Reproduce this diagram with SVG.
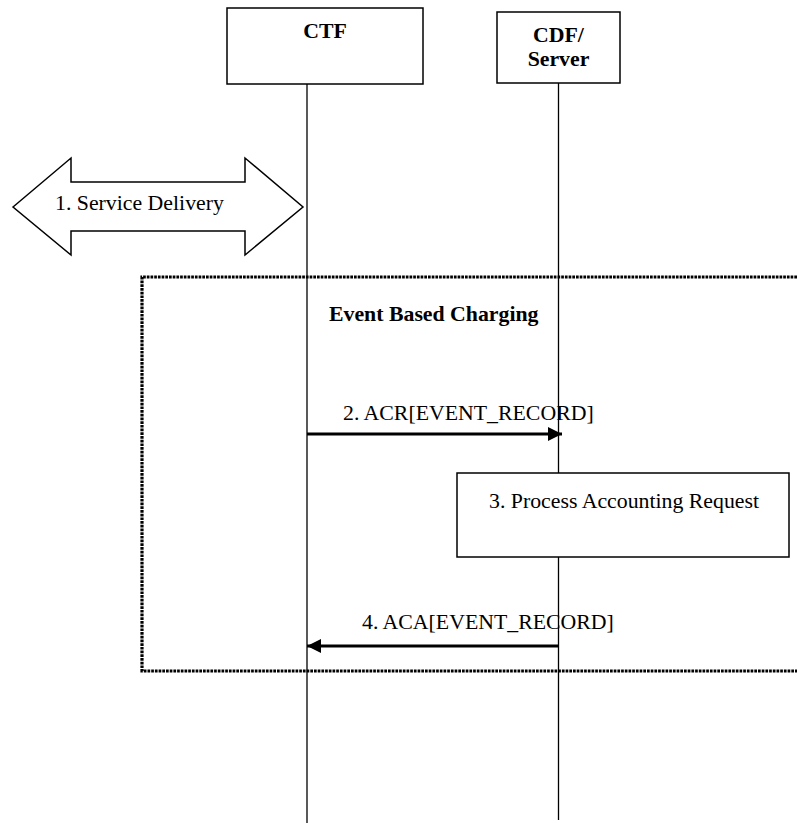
<svg xmlns="http://www.w3.org/2000/svg" width="797" height="823" viewBox="0 0 797 823">
<style>
text{font-family:"Liberation Serif","Times New Roman",serif;font-size:21.8px;fill:#000}
.b{font-weight:bold}
.box{fill:#fff;stroke:#000;stroke-width:1.5}
.life{stroke:#000;stroke-width:1.3;fill:none}
.msg{stroke:#000;stroke-width:3;fill:none}
.dot{stroke:#000;stroke-width:3.2;fill:none;stroke-dasharray:2.7 1}
</style>
<defs>
<marker id="ah" viewBox="0 0 14 14" refX="14" refY="7" markerWidth="14" markerHeight="14" markerUnits="userSpaceOnUse" orient="auto">
<path d="M0,0 L14,7 L0,14 Z" fill="#000"/>
</marker>
</defs>
<rect width="797" height="823" fill="#fff"/>
<g id="lifelines">
<line class="life" x1="307" y1="84" x2="307" y2="823"/>
<line class="life" x1="558.5" y1="83" x2="558.5" y2="820"/>
</g>
<g id="frame">
<path class="dot" d="M797,277 L142,277 L142,671 L797,671"/>
<text class="b" x="329" y="321">Event Based Charging</text>
</g>
<g id="ctf">
<rect class="box" x="227" y="8" width="196" height="76"/>
<text class="b" x="325" y="38" text-anchor="middle">CTF</text>
</g>
<g id="cdf">
<rect class="box" x="497" y="12" width="123" height="71"/>
<text class="b" x="558.5" y="42" text-anchor="middle">CDF/</text>
<text class="b" x="558.5" y="66" text-anchor="middle">Server</text>
</g>
<g id="service-delivery">
<polygon points="13,207 71,158 71,182 245,182 245,158 303,207 245,255 245,231 71,231 71,255" fill="#fff" stroke="#000" stroke-width="1.5"/>
<text x="55" y="210">1. Service Delivery</text>
</g>
<g id="process">
<rect class="box" x="457" y="473" width="332" height="84"/>
<text x="489" y="508">3. Process Accounting Request</text>
</g>
<g id="connectors">
<line class="msg" x1="307" y1="434" x2="562" y2="434" marker-end="url(#ah)"/>
<text x="343" y="420">2. ACR[EVENT_RECORD]</text>
<line class="msg" x1="558.5" y1="646" x2="307" y2="646" marker-end="url(#ah)"/>
<text x="362" y="629">4. ACA[EVENT_RECORD]</text>
</g>
</svg>
